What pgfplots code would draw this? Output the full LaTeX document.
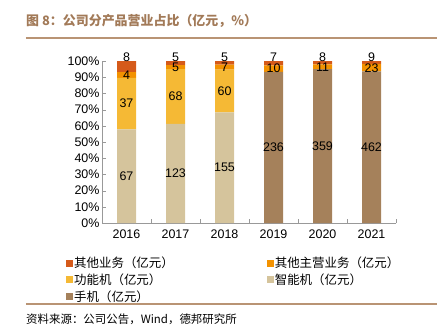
\documentclass[border=0pt]{standalone}
\usepackage{pgfplots}
\usepackage{pgfplotstable}
\pgfplotsset{compat=1.18}
\usepackage{fontspec}
\setmainfont{Liberation Sans}
\newfontfamily\cjk{Noto Sans CJK SC}
\definecolor{cOther}{HTML}{D55A1A}
\definecolor{cMain}{HTML}{F39200}
\definecolor{cFunc}{HTML}{F5B935}
\definecolor{cSmart}{HTML}{D5C49C}
\definecolor{cPhone}{HTML}{A5815B}
\definecolor{cTitle}{HTML}{A27A58}
\definecolor{cRule}{HTML}{B99474}

\pgfplotstableread{
x smart phone func main other
0 67 0 37 4 8
1 123 0 68 5 5
2 155 0 60 7 5
3 0 236 0 10 7
4 0 359 0 11 8
5 0 462 0 23 9
}\data
\pgfplotstablecreatecol[create col/expr={\thisrow{smart}+\thisrow{phone}+\thisrow{func}+\thisrow{main}+\thisrow{other}}]{total}\data
\pgfplotstablecreatecol[create col/expr={100*\thisrow{smart}/\thisrow{total}}]{ps}\data
\pgfplotstablecreatecol[create col/expr={100*\thisrow{phone}/\thisrow{total}}]{pp}\data
\pgfplotstablecreatecol[create col/expr={100*\thisrow{func}/\thisrow{total}}]{pf}\data
\pgfplotstablecreatecol[create col/expr={100*\thisrow{main}/\thisrow{total}}]{pm}\data
\pgfplotstablecreatecol[create col/expr={100*\thisrow{other}/\thisrow{total}}]{po}\data
% label positions (segment centres)
\pgfplotstablecreatecol[create col/expr={50*(\thisrow{smart}+\thisrow{phone})/\thisrow{total}}]{cb}\data
\pgfplotstablecreatecol[create col/expr={100*(\thisrow{smart}+\thisrow{phone}+0.5*\thisrow{func})/\thisrow{total}}]{cf}\data
\pgfplotstablecreatecol[create col/expr={100*(\thisrow{smart}+\thisrow{phone}+\thisrow{func}+0.5*\thisrow{main})/\thisrow{total}}]{cm}\data
\pgfplotstablecreatecol[create col/expr={100}]{ct}\data

\begin{document}
\begin{tikzpicture}[x=1bp,y=1bp]
\path[use as bounding box] (-102,-109) rectangle (345,223);
% title and rules
\node[anchor=west,inner sep=0,text=cTitle,font=\cjk\fontsize{13}{15}\selectfont\bfseries] at (-76,202) {图 8：公司分产品营业占比（亿元，\%）};
\draw[cRule,line width=1.6bp] (-76,185) -- (335,185);
\draw[cRule,line width=1.2bp] (-76,-81) -- (335,-81);
\node[anchor=west,inner sep=0,font=\cjk\fontsize{11.5}{13}\selectfont] at (-76,-96) {资料来源：公司公告，Wind，德邦研究所};

\begin{axis}[
  at={(0,0)}, anchor=south west,
  scale only axis, width=294bp, height=162bp,
  ybar stacked, bar width=19bp,
  xmin=-0.5, xmax=5.5, ymin=0, ymax=100,
  axis x line*=bottom, axis y line*=left,
  axis line style={draw=gray!80},
  xtick={0,...,5}, xticklabels={2016,2017,2018,2019,2020,2021},
  major x tick style={draw=none},
  minor xtick={-0.5,0.5,...,5.5},
  minor tick length=4bp,
  minor x tick style={draw=gray!80},
  ytick={0,10,...,100},
  yticklabel={\pgfmathprintnumber{\tick}\%},
  major tick length=4bp,
  y tick style={draw=gray!80},
  tick align=inside,
  /pgf/number format/assume math mode=true,
  tick label style={font=\fontsize{12.5}{14}\selectfont},
  xticklabel style={yshift=-3bp},
  yticklabel style={xshift=1bp},
  reverse legend,
  legend columns=2,
  legend style={at={(-39bp,-31bp)}, anchor=north west, draw=none, fill=none,
    font=\cjk\fontsize{12.5}{14}\selectfont, row sep=2.5bp,
    nodes={inner sep=1bp, anchor=west}},
  /tikz/every even column/.append style={column sep=92bp},
  legend cell align=left,
  legend image code/.code={\fill[#1] (0bp,-3.5bp) rectangle (7bp,3.5bp);},
]
\addplot[fill=cPhone, draw=none] table[x=x,y=pp]{\data};
\addlegendentry{手机（亿元）}
\addplot[fill=cSmart, draw=none] table[x=x,y=ps]{\data};
\addlegendentry{智能机（亿元）}
\addplot[fill=cFunc, draw=none] table[x=x,y=pf]{\data};
\addlegendentry{功能机（亿元）}
\addplot[fill=cMain, draw=none] table[x=x,y=pm]{\data};
\addlegendentry{其他主营业务（亿元）}
\addplot[fill=cOther, draw=none] table[x=x,y=po]{\data};
\addlegendentry{其他业务（亿元）}
\end{axis}

\begin{axis}[
  at={(0,0)}, anchor=south west,
  scale only axis, width=294bp, height=162bp,
  xmin=-0.5, xmax=5.5, ymin=0, ymax=100,
  hide axis, clip=false,
  nodes near coords, point meta=explicit symbolic,
  every node near coord/.append style={anchor=center, inner sep=0, font=\fontsize{12.5}{14}\selectfont},
]
\addplot[only marks, mark=none, skip coords between index={3}{6}] table[x=x,y=cb,meta=smart]{\data};
\addplot[only marks, mark=none, skip coords between index={0}{3}] table[x=x,y=cb,meta=phone]{\data};
\addplot[only marks, mark=none, skip coords between index={3}{6}] table[x=x,y=cf,meta=func]{\data};
\addplot[only marks, mark=none] table[x=x,y=cm,meta=main]{\data};
\addplot[only marks, mark=none, every node near coord/.append style={anchor=south, yshift=-0.5bp}] table[x=x,y=ct,meta=other]{\data};
\end{axis}
\end{tikzpicture}
\end{document}
